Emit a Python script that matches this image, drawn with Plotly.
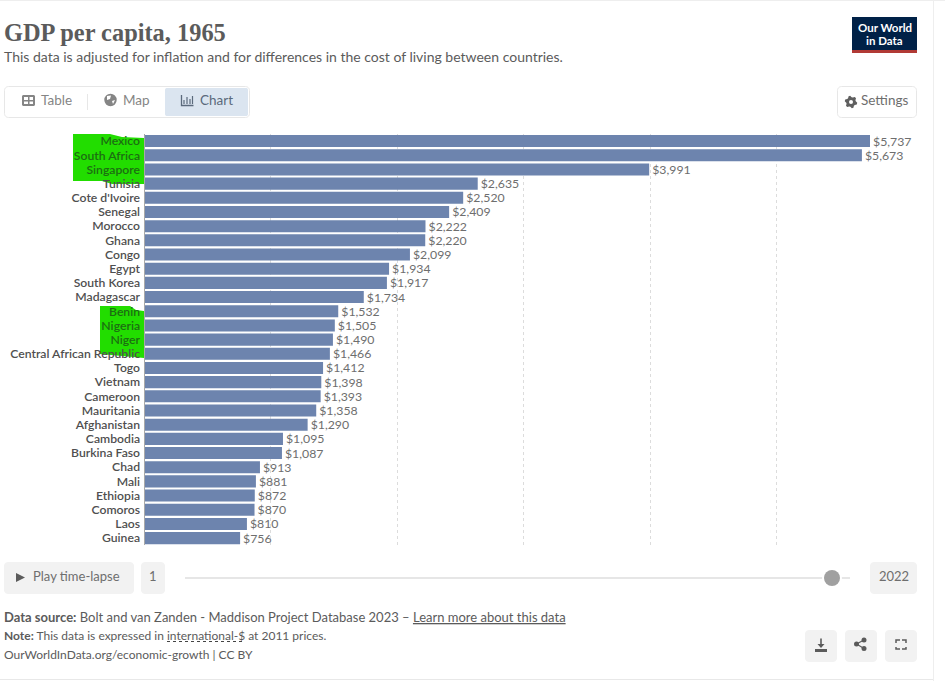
import math
import plotly.graph_objects as go

W, H = 945, 681

countries = ["Mexico", "South Africa", "Singapore", "Tunisia", "Cote d'Ivoire", "Senegal",
             "Morocco", "Ghana", "Congo", "Egypt", "South Korea", "Madagascar", "Benin",
             "Nigeria", "Niger", "Central African Republic", "Togo", "Vietnam", "Cameroon",
             "Mauritania", "Afghanistan", "Cambodia", "Burkina Faso", "Chad", "Mali",
             "Ethiopia", "Comoros", "Laos", "Guinea"]
gdp = [5737, 5673, 3991, 2635, 2520, 2409, 2222, 2220, 2099, 1934, 1917, 1734, 1532,
       1505, 1490, 1466, 1412, 1398, 1393, 1358, 1290, 1095, 1087, 913, 881, 872, 870,
       810, 756]
highlighted = ["Mexico", "South Africa", "Singapore", "Benin", "Nigeria", "Niger"]
grid_ticks = [1000, 2000, 3000, 4000, 5000]

FONT = "Lato"
TXT = "#5b5b5b"


def px(x):
    return x / W


def py(y):
    return 1 - y / H


shapes = []
annotations = []


def path_of(points, close=True):
    s = "M" + " L".join(f"{px(x):.5f},{py(y):.5f}" for x, y in points)
    return s + (" Z" if close else "")


def poly(points, fill=None, line=None, lw=1, close=True, layer="above", dash=None):
    ln = dict(color=line or "rgba(0,0,0,0)", width=lw if line else 0)
    if dash:
        ln["dash"] = dash
    shapes.append(dict(type="path", xref="paper", yref="paper", path=path_of(points, close),
                       fillcolor=fill or "rgba(0,0,0,0)", line=ln, layer=layer))


def rrect(x0, y0, x1, y1, r=4, fill=None, line=None, lw=1):
    pts = []
    for cx, cy, a0 in [(x1 - r, y0 + r, -90), (x1 - r, y1 - r, 0), (x0 + r, y1 - r, 90), (x0 + r, y0 + r, 180)]:
        for i in range(7):
            a = math.radians(a0 + i * 15)
            pts.append((cx + r * math.cos(a), cy + r * math.sin(a)))
    poly(pts, fill, line, lw)


def circle(cx, cy, r, fill=None, line=None, lw=1):
    shapes.append(dict(type="circle", xref="paper", yref="paper", x0=px(cx - r), x1=px(cx + r),
                       y0=py(cy + r), y1=py(cy - r), fillcolor=fill or "rgba(0,0,0,0)",
                       line=dict(color=line or "rgba(0,0,0,0)", width=lw if line else 0)))


def text(x, y, s, size=13, color=TXT, anchor="left", family=FONT, weight=None):
    f = dict(size=size, color=color, family=family)
    if weight:
        f["weight"] = weight
    annotations.append(dict(xref="paper", yref="paper", x=px(x), y=py(y), text=s, showarrow=False,
                            xanchor=anchor, yanchor="middle", font=f, borderpad=0, borderwidth=0))


# page frame
poly([(0, 0.5), (945, 0.5)], line="#eeeeee", close=False)
poly([(933.5, 0), (933.5, 681)], line="#eeeeee", close=False)
poly([(0, 679.5), (933, 679.5)], line="#e8e8e8", close=False)

# highlighter marks behind the labels
poly([(73, 134), (110, 134), (122, 137), (144, 138), (144, 184), (112, 184), (102, 181), (73, 181)],
     fill="#22dd00", layer="below")
poly([(100, 306), (130, 306), (136, 310), (144, 311), (144, 358), (100, 354)],
     fill="#22dd00", layer="below")

# header
text(4, 32, "<b>GDP per capita, 1965</b>", size=24.4, color="#5b5b5b", family="Liberation Serif")
text(4, 57, "This data is adjusted for inflation and for differences in the cost of living between countries.",
     size=14, color="#5b5b5b")

# logo
poly([(852, 17), (917, 17), (917, 50), (852, 50)], fill="#002147")
poly([(852, 50), (917, 50), (917, 53), (852, 53)], fill="#b13a35")
text(884.5, 28, "<b>Our World</b>", size=11.5, color="#ffffff", anchor="center")
text(884.5, 40, "<b>in Data</b>", size=11.5, color="#ffffff", anchor="center")

# tabs
rrect(4.5, 86.5, 249.5, 117.5, r=4, fill="#ffffff", line="#e7e7e7")
rrect(165, 88, 248, 116, r=2, fill="#dbe5f0")
poly([(87.5, 94), (87.5, 110)], line="#e7e7e7", close=False)
text(41, 100, "Table", size=13.5, color="#858585")
text(123, 100, "Map", size=13.5, color="#858585")
text(200, 100, "Chart", size=13.5, color="#5b6a7c")
# table icon
rrect(22, 95, 35, 106, r=1.5, fill="#858585")
for rect in [(24, 97, 28, 100), (29.5, 97, 33, 100), (24, 101.5, 28, 104), (29.5, 101.5, 33, 104)]:
    poly([(rect[0], rect[1]), (rect[2], rect[1]), (rect[2], rect[3]), (rect[0], rect[3])], fill="#ffffff")
# globe icon
circle(110.5, 100, 6.2, fill="#858585")
poly([(107, 96), (111, 95.5), (110, 99), (107, 100)], fill="#ffffff")
poly([(112, 101), (115, 100), (113, 104)], fill="#ffffff")
# chart icon
poly([(181.5, 95), (181.5, 105.5), (193.5, 105.5)], line="#5b6a7c", lw=1.3, close=False)
for bx, top in [(184, 100), (187, 97), (190, 99), (192.5, 96)]:
    poly([(bx, 104), (bx, top)], line="#5b6a7c", lw=1.2, close=False)

# settings
rrect(837.5, 86.5, 916.5, 117.5, r=4, fill="#ffffff", line="#e7e7e7")
text(861, 100, "Settings", size=13.5, color="#6e6e6e")
gear = []
for i in range(24):
    a = math.radians(i * 15 + 7.5)
    r = 6.3 if i % 4 in (0, 1) else 4.8
    gear.append((851 + r * math.cos(a), 102 + r * math.sin(a)))
poly(gear, fill="#5f5f5f")
circle(851, 102, 2, fill="#ffffff")

# time-lapse controls
rrect(4, 562, 134, 594, r=4, fill="#f2f2f2")
poly([(16, 573), (25, 577.5), (16, 582)], fill="#5b5b5b")
text(33, 575.5, "Play time-lapse", size=13, color="#6e6e6e")
rrect(141, 562, 165, 594, r=4, fill="#f2f2f2")
text(153, 575.5, "1", size=13, color="#6e6e6e", anchor="center")
poly([(185, 578), (850, 578)], line="#e6e6e6", lw=2, close=False)
circle(832, 578, 10, fill="#ffffff")
circle(832, 578, 8, fill="#a0a0a0")
rrect(870, 562, 917, 594, r=4, fill="#f2f2f2")
text(893.5, 575.5, "2022", size=13, color="#6e6e6e", anchor="center")

# footer
text(4, 616.5, "<b>Data source:</b> Bolt and van Zanden - Maddison Project Database 2023 – <u>Learn more about this data</u>",
     size=13, color="#5b5b5b")
text(4, 635.5, "<b>Note:</b> This data is expressed in international-$ at 2011 prices.", size=12, color="#5b5b5b")
poly([(167, 641.5), (245, 641.5)], line="#444444", lw=1, close=False, dash="dot")
text(4, 654.5, "OurWorldInData.org/economic-growth | CC BY", size=12, color="#5b5b5b")

# footer buttons
for x0 in (805, 845, 885):
    rrect(x0, 630, x0 + 32, 662, r=4, fill="#f2f2f2")
poly([(821, 638.5), (821, 647)], line="#5b5b5b", lw=1.6, close=False)
poly([(817.5, 644), (821, 648), (824.5, 644)], fill="#5b5b5b")
poly([(815, 649), (827, 649), (827, 652), (815, 652)], fill="#5b5b5b")
for cx, cy in [(856.5, 644), (864, 640), (864, 648.5)]:
    circle(cx, cy, 2.5, fill="#5b5b5b")
poly([(856.5, 644), (864, 640)], line="#5b5b5b", lw=1.2, close=False)
poly([(856.5, 644), (864, 648.5)], line="#5b5b5b", lw=1.2, close=False)
for (a, b, c) in [((896, 643), (896, 640), (900, 640)), ((902, 640), (906, 640), (906, 643)),
                  ((906, 647), (906, 649), (902, 649)), ((900, 649), (896, 649), (896, 647))]:
    poly([a, b, c], line="#5b5b5b", lw=1.5, close=False)

ticktext = [f'<span style="color:#1c6e12">{c}</span>' if c in highlighted else c for c in countries]

fig = go.Figure(go.Bar(
    x=gdp, y=countries, orientation="h",
    marker=dict(color="#6d84ae", line=dict(width=2, color="rgba(0,0,0,0)")),
    text=[f"${v:,}" for v in gdp], textposition="outside", cliponaxis=False,
    textangle=0, constraintext="none",
    textfont=dict(family=FONT, size=12.3, color="#6e6e6e"),
    hoverinfo="skip",
))

X0, X1, Y0, Y1 = 144.5, 900.5, 134, 545.2
fig.update_layout(
    width=W, height=H, autosize=False, margin=dict(l=0, r=0, t=0, b=0),
    paper_bgcolor="#ffffff", plot_bgcolor="rgba(0,0,0,0)", bargap=0.15, showlegend=False,
    shapes=shapes, annotations=annotations,
    xaxis=dict(domain=[px(X0), px(X1)], range=[0, (X1 - X0) / 0.12646], tickvals=grid_ticks,
               showticklabels=False, ticks="", showgrid=True, gridcolor="#dcdcdc", griddash="dot",
               gridwidth=1, zeroline=False, showline=False),
    yaxis=dict(domain=[py(Y1), py(Y0)], type="category", categoryorder="array", categoryarray=countries,
               range=[28.5, -0.5], tickmode="array", tickvals=countries, ticktext=ticktext, ticks="",
               ticklabelstandoff=1, tickfont=dict(family=FONT, size=12.2, color="#4f4f4f", weight=600),
               showgrid=False, zeroline=False, showline=True, linecolor="#a9a9a9", linewidth=1),
)
fig.write_html("out.html", config=dict(displayModeBar=False),
               post_script="document.body.style.margin='0';")
